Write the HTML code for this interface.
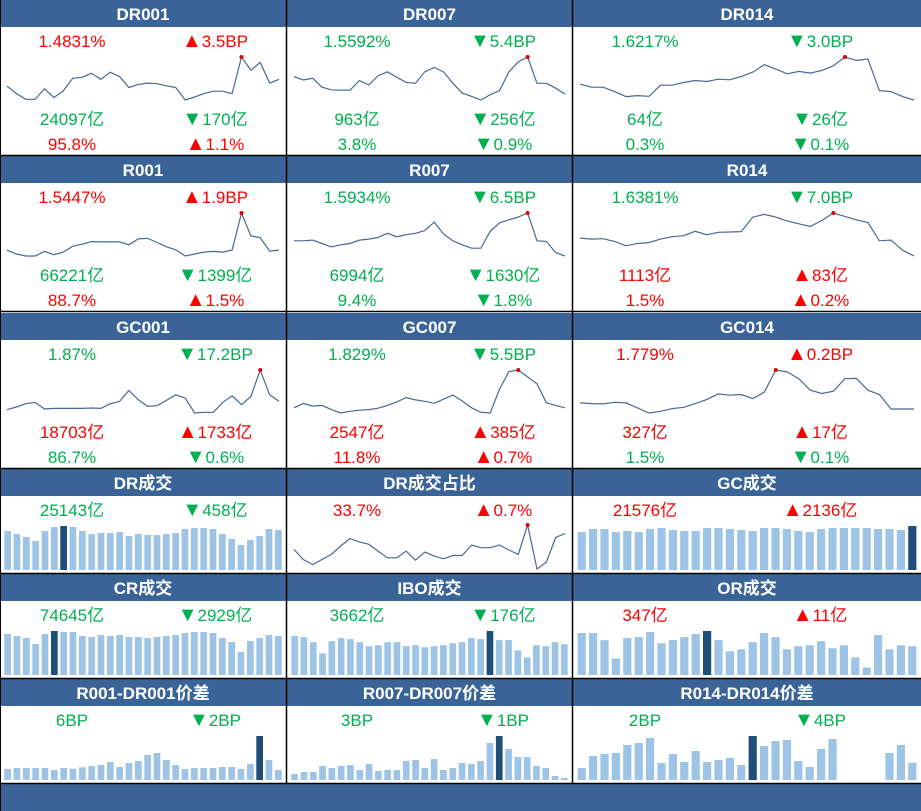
<!DOCTYPE html>
<html><head><meta charset="utf-8">
<style>
html,body{margin:0;padding:0;background:#fff;}
svg{display:block;font-family:"Liberation Sans","Noto Sans CJK SC",sans-serif;}
</style></head>
<body>
<svg id="dash" width="921" height="811" viewBox="0 0 921 811" xmlns="http://www.w3.org/2000/svg"></svg>
<script>
// ---- data arrays ----
const rateTitles = ["DR001","DR007","DR014","R001","R007","R014","GC001","GC007","GC014"];
const rateLine1 = [["1.4831%","▲3.5BP","r","r"],["1.5592%","▼5.4BP","g","g"],["1.6217%","▼3.0BP","g","g"],["1.5447%","▲1.9BP","r","r"],["1.5934%","▼6.5BP","g","g"],["1.6381%","▼7.0BP","g","g"],["1.87%","▼17.2BP","g","g"],["1.829%","▼5.5BP","g","g"],["1.779%","▲0.2BP","r","r"]];
const rateLine2 = [["24097亿","▼170亿","g","g"],["963亿","▼256亿","g","g"],["64亿","▼26亿","g","g"],["66221亿","▼1399亿","g","g"],["6994亿","▼1630亿","g","g"],["1113亿","▲83亿","r","r"],["18703亿","▲1733亿","r","r"],["2547亿","▲385亿","r","r"],["327亿","▲17亿","r","r"]];
const rateLine3 = [["95.8%","▲1.1%","r","r"],["3.8%","▼0.9%","g","g"],["0.3%","▼0.1%","g","g"],["88.7%","▲1.5%","r","r"],["9.4%","▼1.8%","g","g"],["1.5%","▲0.2%","r","r"],["86.7%","▼0.6%","g","g"],["11.8%","▲0.7%","r","r"],["1.5%","▼0.1%","g","g"]];
const sparkDR001 = [42,20,3,3,34,8,28,65,68,80,62,83,70,38,47,51,49,43,38,1,10,20,27,27,20,128,89,112,51,62];
const sparkDR007 = [80,70,75,48,40,39,39,68,55,83,95,78,63,60,95,108,95,60,30,20,9,25,38,95,125,140,60,60,45,27];
const sparkDR014 = [57,48,48,35,20,23,21,54,54,62,68,65,72,70,80,93,115,102,88,95,90,98,112,138,128,132,38,35,20,10];
const sparkR001 = [22,10,4,4,18,8,16,34,40,48,47,47,47,38,56,58,45,32,23,4,10,16,18,16,22,135,65,60,19,22];
const sparkR007 = [50,50,52,42,32,38,42,52,55,60,72,62,68,72,80,105,70,50,38,28,28,78,103,112,120,132,50,48,15,5];
const sparkR014 = [58,55,56,48,35,42,45,55,62,65,78,68,75,76,77,120,128,120,108,100,92,110,132,122,112,104,50,52,22,5];
const sparkGC001 = [20,28,38,42,22,24,24,24,24,25,24,38,45,78,50,30,32,48,65,55,10,12,12,42,62,35,60,140,65,45];
const sparkGC007 = [25,38,30,32,20,10,15,18,20,24,32,42,55,48,44,38,50,62,45,25,12,10,80,130,135,115,95,40,32,25];
const sparkGC014 = [40,38,37,42,40,25,10,15,23,27,38,50,67,63,65,53,72,138,132,112,78,68,75,112,113,78,65,22,22,22];
const sparkDRShare = [70,40,25,40,55,80,102,92,85,65,45,45,65,38,62,50,42,52,52,83,75,75,83,68,55,142,12,32,105,117];
const rateSparks = [sparkDR001,sparkDR007,sparkDR014,sparkR001,sparkR007,sparkR014,sparkGC001,sparkGC007,sparkGC014];

const barTitles = ["DR成交","DR成交占比","GC成交","CR成交","IBO成交","OR成交","R001-DR001价差","R007-DR007价差","R014-DR014价差"];
const barLine1 = [["25143亿","▼458亿","g","g"],["33.7%","▲0.7%","r","r"],["21576亿","▲2136亿","r","r"],["74645亿","▼2929亿","g","g"],["3662亿","▼176亿","g","g"],["347亿","▲11亿","r","r"],["6BP","▼2BP","g","g"],["3BP","▼1BP","g","g"],["2BP","▼4BP","g","g"]];
const barsDR = [117,108,99,87,117,129,132,129,117,108,111,111,114,102,108,105,105,108,111,123,126,126,123,108,93,75,90,102,123,120];
const barsGC = [114,123,123,114,117,114,123,126,120,117,117,126,126,123,120,117,126,126,123,117,114,123,126,126,126,126,123,123,120,132];
const barsCR = [123,117,111,93,123,132,129,129,117,114,120,117,120,114,114,111,114,117,120,126,129,129,126,111,99,69,102,111,120,117];
const barsIBO = [115,112,97,64,100,109,106,97,85,88,97,97,85,88,82,85,88,94,97,109,106,130,103,103,73,52,88,85,97,91];
const barsOR = [124,124,103,49,109,112,127,94,103,112,121,130,103,70,76,97,124,112,76,85,88,100,79,88,52,22,118,76,88,85];
const barsS1 = [33,36,36,36,36,30,36,34,38,42,45,54,39,51,57,75,81,60,45,33,36,36,36,39,39,33,48,132,60,30];
const barsS2 = [18,24,24,42,36,42,45,30,48,27,30,30,57,60,36,63,30,36,51,48,57,111,132,93,69,69,42,36,12,6];
const barsS3 = [36,72,78,81,105,111,126,51,78,54,87,54,60,66,45,132,102,117,120,57,39,93,123,0,0,0,0,81,105,52];
const barHighlight = [6,-1,29,5,21,11,27,22,15];
const barSeries = [barsDR,null,barsGC,barsCR,barsIBO,barsOR,barsS1,barsS2,barsS3];

// ---- layout ----
const svg = document.getElementById('dash');
const NS = 'http://www.w3.org/2000/svg';
const colX = [0,287,573], colW = [286,285,348];
const leftCx = [72,357,645], rightCx = [215,503,820];
const rateTops = [0,156,313], barTops = [469,574,679];
const RED = '#ff0000', GREEN = '#00b050';
function mk(tag, attrs, parent){const e=document.createElementNS(NS,tag);for(const k in attrs)e.setAttribute(k,attrs[k]);(parent||svg).appendChild(e);return e;}
function txt(x,y,s,col,parent,size,weight){
  const t=mk('text',{x:x,y:y,'text-anchor':'middle','font-size':size||17,fill:col,'font-weight':weight||'normal'},parent);
  if(s[0]==='▲'||s[0]==='▼'){
    const a=mk('tspan',{'font-size':20},t);a.textContent=s[0];
    const b=mk('tspan',{},t);b.textContent=s.slice(1);
  } else t.textContent=s;
  return t;
}
function header(x,y,w,title,g){
  const r=mk('rect',{x:x,y:y,width:w,height:27,fill:'#3a6497'},g);
  
  
  const t=txt(x+w/2,y+20,title,'#ffffff',g,17,'bold');
  
  
}
function pair(c,y,item,g){
  const a=txt(leftCx[c],y,item[0],item[2]=='r'?RED:GREEN,g);
  
  
  const b=txt(rightCx[c],y,item[1],item[3]=='r'?RED:GREEN,g);
  
  
}
function spark(c,top,data,g,yTop,yBot){
  const x0=colX[c]+7, x1=colX[c]+colW[c]-7;
  const mn=Math.min(...data), mx=Math.max(...data);
  const sx=i=>x0+(x1-x0)*i/(data.length-1);
  const sy=v=>top+yBot-(v-mn)/(mx-mn)*(yBot-yTop);
  let d='';data.forEach((v,i)=>{d+=(i?'L':'M')+sx(i).toFixed(1)+' '+sy(v).toFixed(1);});
  const p=mk('path',{d:d,fill:'none',stroke:'#4a6895','stroke-width':1.2},g);
  
  
  const mi=data.indexOf(mx);
  const dot=mk('circle',{cx:sx(mi),cy:sy(mx),r:2,fill:'#e00000'},g);
  
  
}
function bars(c,top,data,hi,g){
  const x0=colX[c]+3, x1=colX[c]+colW[c]-3;
  const n=data.length, pitch=(x1-x0)/n, bw=pitch*0.72;
  const mx=Math.max(...data), base=top+101;
  data.forEach((v,i)=>{
    const h=v/mx*44;
    if(h<=0)return;
    const r=mk('rect',{x:(x0+i*pitch+(pitch-bw)/2).toFixed(1),y:(base-h).toFixed(1),width:bw.toFixed(1),height:h.toFixed(1),fill:i===hi?'#1f4e79':'#9dc3e6'},g);
    
    
  });
}
for(let k=0;k<9;k++){
  const c=k%3, top=rateTops[Math.floor(k/3)];
  const g=mk('g',{});
  
  
  header(colX[c],top,colW[c],rateTitles[k],g);
  pair(c,top+47,rateLine1[k],g);
  spark(c,top,rateSparks[k],g,57,100);
  pair(c,top+125,rateLine2[k],g);
  pair(c,top+150,rateLine3[k],g);
}
for(let k=0;k<9;k++){
  const c=k%3, top=barTops[Math.floor(k/3)];
  const g=mk('g',{});
  
  
  header(colX[c],top,colW[c],barTitles[k],g);
  pair(c,top+47,barLine1[k],g);
  if(barSeries[k]) bars(c,top,barSeries[k],barHighlight[k],g);
  else spark(c,top,sparkDRShare,g,56,100);
}
const f=mk('rect',{x:0,y:784,width:921,height:27,fill:'#3a6497'});


[155.5,311.5,468.5,573.5,678.5,783.5].forEach(y=>{
  const l=mk('line',{x1:0,y1:y,x2:921,y2:y,stroke:'#000','stroke-width':1.5});
  
  
});
[286.5,572.5].forEach(x=>{
  const l=mk('line',{x1:x,y1:0,x2:x,y2:784,stroke:'#000','stroke-width':1.5});
  
  
});
const lb=mk('line',{x1:0.5,y1:0,x2:0.5,y2:811,stroke:'#000','stroke-width':1});


</script>
</body></html>
